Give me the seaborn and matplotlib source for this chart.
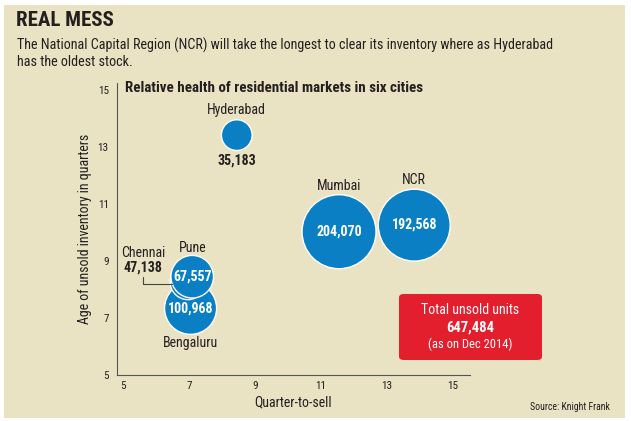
import numpy as np
import pandas as pd
import seaborn as sns
import matplotlib.pyplot as plt
from matplotlib.patches import Rectangle, FancyBboxPatch
from matplotlib import font_manager

# data (draw order: overlapping bubbles at the back first)
CITIES = ['Hyderabad', 'Mumbai', 'NCR', 'Bengaluru', 'Chennai', 'Pune']
QUARTER_TO_SELL = [8.45, 11.55, 13.83, 7.05, 6.97, 7.10]
AGE_QUARTERS = [13.42, 10.03, 10.26, 7.34, 8.27, 8.45]
UNSOLD_UNITS = [35183, 204070, 192568, 100968, 47138, 67557]
X_TICKS = [5, 7, 9, 11, 13, 15]
Y_TICKS = [5, 7, 9, 11, 13, 15]

BG = '#e9e2c3'
BLUE = '#0a7fc4'
RED = '#e31e2d'
INK = '#231f20'

W, H = 631, 421

def pick_font():
    names = {f.name for f in font_manager.fontManager.ttflist}
    for name in ['Liberation Sans Narrow', 'Roboto Condensed', 'Open Sans Condensed', 'Roboto']:
        if name in names:
            return name
    return 'DejaVu Sans'

def px(x, y):
    # pixel position (from top-left) -> figure fraction
    return x / W, 1 - y / H

sns.set_style('white')
FONT = pick_font()
plt.rcParams['font.family'] = [FONT, 'DejaVu Sans']

df = pd.DataFrame({'city': CITIES, 'x': QUARTER_TO_SELL, 'y': AGE_QUARTERS, 'units': UNSOLD_UNITS})

fig = plt.figure(figsize=(W / 100, H / 100), dpi=100)
fig.patch.set_facecolor('white')
fig.patches.append(Rectangle(px(4, 418), 621 / W, 413 / H, transform=fig.transFigure,
                             facecolor=BG, edgecolor='none', zorder=-10))

ax = fig.add_axes([117 / W, 1 - 375 / H, (470 - 117) / W, (375 - 83) / H])
ax.set_facecolor('none')

# bubble area proportional to units; biggest bubble about 74 px across
smax = (74 * 0.72) ** 2
sns.scatterplot(data=df, x='x', y='y', size='units', sizes=(0, smax),
                size_norm=(0, max(UNSOLD_UNITS)), color=BLUE, edgecolor='white',
                linewidth=1.0, alpha=1, legend=False, ax=ax, zorder=3, clip_on=False)

ax.set_xlim(4.82, 15.52)
ax.set_ylim(5, 15.25)
ax.set_xticks(X_TICKS)
ax.set_yticks(Y_TICKS)
ax.tick_params(axis='x', direction='inout', length=5, width=0.7, colors='#555555',
               labelsize=8, labelcolor=INK, pad=2)
ax.tick_params(axis='y', direction='out', length=4, width=0.7, colors='#555555',
               labelsize=8, labelcolor=INK, pad=2)
sns.despine(ax=ax)
for s in ['left', 'bottom']:
    ax.spines[s].set_color('#555555')
    ax.spines[s].set_linewidth(0.8)
ax.set_xlabel('Quarter-to-sell', fontsize=10, color=INK, labelpad=3)
ax.set_ylabel('Age of unsold inventory in quarters', fontsize=10, color=INK, labelpad=4)

# bubble labels: name offset (pixels, + is down), value inside or below
name_dy = {'Hyderabad': -25, 'Mumbai': -46, 'NCR': -45, 'Pune': -29, 'Bengaluru': 35}
for city, x, y, u in zip(CITIES, QUARTER_TO_SELL, AGE_QUARTERS, UNSOLD_UNITS):
    val = f'{u:,}'
    if city == 'Chennai':
        ax.annotate(city, (x, y), xytext=(-45 * 0.72, 29 * 0.72), textcoords='offset points',
                    ha='center', va='center', fontsize=10, color=INK, zorder=5)
        ax.annotate(val, (x, y), xytext=(-45 * 0.72, 14 * 0.72), textcoords='offset points',
                    ha='center', va='center', fontsize=10, fontweight='bold', color=INK, zorder=5)
        continue
    ax.annotate(city, (x, y), xytext=(0, -name_dy[city] * 0.72), textcoords='offset points',
                ha='center', va='center', fontsize=10, color=INK, zorder=5)
    if city == 'Hyderabad':
        ax.annotate(val, (x, y), xytext=(0, -25 * 0.72), textcoords='offset points',
                    ha='center', va='center', fontsize=10, fontweight='bold', color=INK, zorder=5)
    else:
        dy = 1 if city == 'NCR' else 0
        ax.annotate(val, (x, y), xytext=(0, dy * 0.72), textcoords='offset points',
                    ha='center', va='center', fontsize=10, fontweight='bold', color='white', zorder=6)

# leader line for Chennai
fig.add_artist(plt.Line2D([143 / W, 143 / W, 172 / W],
                          [1 - 277 / H, 1 - 284 / H, 1 - 284 / H],
                          transform=fig.transFigure, color='#444444', lw=0.8, zorder=2))

# header
fig.text(*px(16, 21), 'REAL MESS', fontsize=15, fontweight='bold', color=INK, va='center')
fig.text(*px(17, 45), 'The National Capital Region (NCR) will take the longest to clear its inventory where as Hyderabad',
         fontsize=10.2, color=INK, va='center')
fig.text(*px(17, 62), 'has the oldest stock.', fontsize=10.2, color=INK, va='center')
fig.text(*px(125, 88), 'Relative health of residential markets in six cities', fontsize=10.8,
         fontweight='bold', color=INK, va='center')

# total box
fig.patches.append(FancyBboxPatch(px(399, 360), (542 - 399) / W, (360 - 294) / H,
                                  boxstyle='round,pad=0,rounding_size=0.008',
                                  transform=fig.transFigure, facecolor=RED, edgecolor='none'))
fig.text(*px(470, 310), 'Total unsold units', fontsize=10, color='white', ha='center', va='center')
fig.text(*px(470, 328), f'{sum(UNSOLD_UNITS):,}', fontsize=10.5, fontweight='bold', color='white',
         ha='center', va='center')
fig.text(*px(470, 344), '(as on Dec 2014)', fontsize=9, color='white', ha='center', va='center')

fig.text(*px(610, 407), 'Source: Knight Frank', fontsize=7, color=INK, ha='right', va='center')

fig.savefig('out.png', dpi=100, facecolor=fig.get_facecolor())
